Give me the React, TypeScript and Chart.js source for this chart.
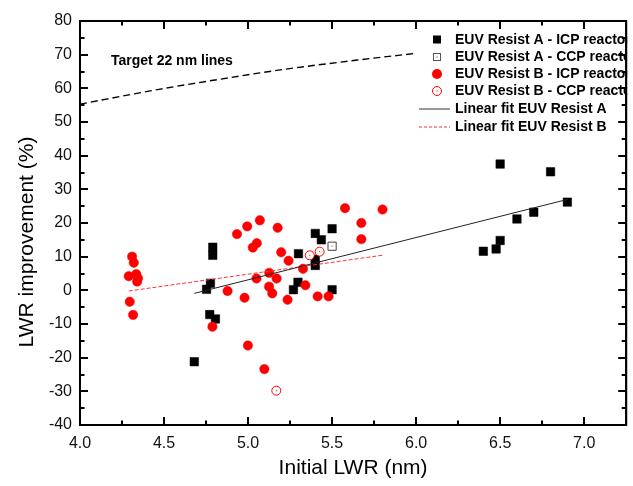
import React, { useEffect, useRef } from "react";
import { Chart, registerables } from "chart.js";

Chart.register(...registerables);

// ---- Data ----
const resistA_ICP_x = [4.79, 4.79, 4.776, 4.753, 4.772, 4.806, 4.68, 5.3, 5.4, 5.436, 5.5, 5.4, 5.4, 5.297, 5.27, 5.5, 6.5, 6.8, 6.9, 6.7, 6.6, 6.5, 6.476, 6.4];
const resistA_ICP_y = [12.8, 10.4, 2.1, 0.3, -7.2, -8.5, -21.2, 10.9, 16.9, 15.0, 18.3, 9.2, 7.4, 2.4, 0.2, 0.2, 37.5, 35.2, 26.2, 23.2, 21.2, 14.8, 12.3, 11.6];

const resistA_CCP_x = [5.5];
const resistA_CCP_y = [13.1];

const resistB_ICP_x = [4.31, 4.32, 4.29, 4.335, 4.345, 4.34, 4.296, 4.316, 5.577, 5.8, 5.674, 5.674, 5.07, 4.995, 4.934, 5.176, 5.052, 5.028, 5.197, 5.241, 5.327, 5.126, 5.17, 5.05, 4.878, 4.979, 5.125, 5.144, 5.235, 5.341, 5.414, 5.479, 4.788, 4.999, 5.097];
const resistB_ICP_y = [10.0, 8.2, 4.2, 4.8, 3.6, 2.6, -3.4, -7.3, 24.4, 24.0, 20.0, 15.2, 20.8, 19.0, 16.7, 18.6, 14.0, 12.7, 11.3, 8.8, 6.4, 5.2, 3.5, 3.5, -0.2, -2.2, 1.1, -0.9, -2.8, 1.5, -1.8, -1.8, -10.8, -16.4, -23.4];

const resistB_CCP_x = [5.367, 5.426, 5.168];
const resistB_CCP_y = [10.4, 11.5, -29.8];

const fitA_x = [4.68, 6.9];
const fitA_y = [-0.9, 27.0];

const fitB_x = [4.29, 5.81];
const fitB_y = [-0.2, 10.5];

const target_x = [4.0, 4.47, 5.06, 5.18, 5.65, 6.0];
const target_y = [55.3, 59.7, 64.5, 65.4, 68.4, 70.4];

const xTickStep = 0.5;
const yTickStep = 10;

const legendLabels = [
  "EUV Resist A - ICP reactor",
  "EUV Resist A - CCP reactor",
  "EUV Resist B - ICP reactor",
  "EUV Resist B - CCP reactor",
  "Linear fit EUV Resist A",
  "Linear fit EUV Resist B",
];
const annotationText = "Target 22 nm lines";
const xTitle = "Initial LWR (nm)";
const yTitle = "LWR improvement (%)";

const zip = (xs: number[], ys: number[]) => xs.map((x, i) => ({ x, y: ys[i] }));

const FONT = "'Liberation Sans', Arial, sans-serif";

const framePlugin = {
  id: "framePlugin",
  afterDatasetsDraw(chart: any) {
    const ctx = chart.ctx as CanvasRenderingContext2D;
    ctx.save();
    chart.data.datasets.forEach((ds: any, i: number) => {
      if (!ds.openMarker) return;
      const meta = chart.getDatasetMeta(i);
      ctx.fillStyle = ds.borderColor;
      meta.data.forEach((el: any) => {
        ctx.fillRect(el.x - 0.5, el.y - 0.5, 1, 1);
      });
    });
    ctx.restore();
  },
  afterDraw(chart: any) {
    const ctx = chart.ctx as CanvasRenderingContext2D;
    const { left, right, top, bottom } = chart.chartArea;
    const xs = chart.scales.x;
    const ys = chart.scales.y;
    ctx.save();
    ctx.strokeStyle = "#000";
    ctx.lineWidth = 2;
    ctx.strokeRect(left, top, right - left, bottom - top);
    const major = 8, minor = 4.5;
    const xMaj: number[] = xs.ticks.map((t: any) => t.value);
    const xMin: number[] = xMaj.map((v) => v + xTickStep / 2).filter((v) => v < xs.max);
    const yMaj: number[] = ys.ticks.map((t: any) => t.value);
    const yMin: number[] = yMaj.map((v) => v + yTickStep / 2).filter((v) => v < ys.max);
    ctx.beginPath();
    const xTick = (v: number, len: number) => {
      const px = Math.round(xs.getPixelForValue(v));
      ctx.moveTo(px, bottom); ctx.lineTo(px, bottom - len);
      ctx.moveTo(px, top); ctx.lineTo(px, top + len);
    };
    const yTick = (v: number, len: number) => {
      const py = Math.round(ys.getPixelForValue(v));
      ctx.moveTo(left, py); ctx.lineTo(left + len, py);
    };
    xMaj.forEach((v) => xTick(v, major));
    xMin.forEach((v) => xTick(v, minor));
    yMaj.forEach((v) => yTick(v, major));
    yMin.forEach((v) => yTick(v, minor));
    ctx.stroke();

    ctx.fillStyle = "#000";
    ctx.font = `bold 14px ${FONT}`;
    ctx.textBaseline = "middle";
    ctx.textAlign = "left";
    ctx.fillText(annotationText, 111, 61);

    // legend
    const mx = 437;
    const tx = 455;
    const rows = [39.5, 57, 74, 91, 109, 127];
    ctx.fillStyle = "#000";
    ctx.fillRect(mx - 4, rows[0] - 4, 8, 8);
    ctx.fillStyle = "#fff";
    ctx.strokeStyle = "#555";
    ctx.lineWidth = 1;
    ctx.fillRect(mx - 4, rows[1] - 4, 8, 8);
    ctx.strokeRect(mx - 3.5, rows[1] - 3.5, 7, 7);
    ctx.fillStyle = "#555";
    ctx.fillRect(mx - 0.5, rows[1] - 0.5, 1, 1);
    ctx.fillStyle = "#f00";
    ctx.beginPath();
    ctx.arc(mx, rows[2], 5, 0, Math.PI * 2);
    ctx.fill();
    ctx.strokeStyle = "#f00";
    ctx.beginPath();
    ctx.arc(mx, rows[3], 4.5, 0, Math.PI * 2);
    ctx.stroke();
    ctx.fillRect(mx - 0.5, rows[3] - 0.5, 1, 1);
    ctx.strokeStyle = "#333";
    ctx.lineWidth = 1;
    ctx.beginPath();
    ctx.moveTo(419, rows[4]); ctx.lineTo(450, rows[4]);
    ctx.stroke();
    ctx.strokeStyle = "#f33";
    ctx.setLineDash([3, 2]);
    ctx.beginPath();
    ctx.moveTo(419, rows[5]); ctx.lineTo(450, rows[5]);
    ctx.stroke();
    ctx.setLineDash([]);

    ctx.fillStyle = "#000";
    ctx.font = `bold 14px ${FONT}`;
    legendLabels.forEach((l, i) => ctx.fillText(l, tx, rows[i] + 0.5));

    ctx.strokeStyle = "#000";
    ctx.lineWidth = 2;
    ctx.fillStyle = "#fff";
    ctx.fillRect(right + 1, 0, 10, chart.height);
    ctx.beginPath();
    ctx.moveTo(right, top - 1); ctx.lineTo(right, bottom + 1);
    yMaj.forEach((v) => { const py = Math.round(ys.getPixelForValue(v)); ctx.moveTo(right, py); ctx.lineTo(right - major, py); });
    yMin.forEach((v) => { const py = Math.round(ys.getPixelForValue(v)); ctx.moveTo(right, py); ctx.lineTo(right - minor, py); });
    ctx.stroke();

    ctx.fillStyle = "#000";
    ctx.font = `21px ${FONT}`;
    ctx.textAlign = "center";
    ctx.textBaseline = "middle";
    ctx.fillText(xTitle, (left + right) / 2, 468);
    ctx.translate(27, 242);
    ctx.rotate(-Math.PI / 2);
    ctx.fillText(yTitle, 0, 0);
    ctx.restore();
  },
};

export default function App() {
  const ref = useRef<HTMLCanvasElement | null>(null);
  useEffect(() => {
    if (!ref.current) return;
    const chart = new Chart(ref.current, {
      type: "scatter",
      data: {
        datasets: [
          {
            label: "Linear fit EUV Resist A",
            data: zip(fitA_x, fitA_y),
            showLine: true,
            borderColor: "#222",
            borderWidth: 1,
            pointRadius: 0,
            order: 0,
          },
          {
            label: "Linear fit EUV Resist B",
            data: zip(fitB_x, fitB_y),
            showLine: true,
            borderColor: "#f33",
            borderWidth: 1,
            borderDash: [4, 2],
            pointRadius: 0,
            order: 1,
          },
          {
            label: "EUV Resist B - CCP reactor",
            data: zip(resistB_CCP_x, resistB_CCP_y),
            pointStyle: "circle",
            pointRadius: 4.5,
            backgroundColor: "#fff",
            borderColor: "#f00",
            borderWidth: 1,
            order: 2,
            openMarker: true,
          },
          {
            label: "EUV Resist B - ICP reactor",
            data: zip(resistB_ICP_x, resistB_ICP_y),
            pointStyle: "circle",
            pointRadius: 4.7,
            backgroundColor: "#f00",
            borderColor: "#f00",
            borderWidth: 0.5,
            order: 3,
          },
          {
            label: "EUV Resist A - CCP reactor",
            data: zip(resistA_CCP_x, resistA_CCP_y),
            pointStyle: "rect",
            pointRadius: 5.8,
            backgroundColor: "#fff",
            borderColor: "#444",
            borderWidth: 1,
            order: 4,
            openMarker: true,
          },
          {
            label: "EUV Resist A - ICP reactor",
            data: zip(resistA_ICP_x, resistA_ICP_y),
            pointStyle: "rect",
            pointRadius: 6,
            backgroundColor: "#000",
            borderColor: "#000",
            borderWidth: 0.5,
            order: 5,
          },
          {
            label: "Target 22 nm lines",
            data: zip(target_x, target_y),
            showLine: true,
            cubicInterpolationMode: "monotone",
            borderColor: "#000",
            borderWidth: 1.4,
            borderDash: [7, 4],
            pointRadius: 0,
            order: 6,
          },
        ] as any,
      },
      options: {
        animation: false,
        responsive: false,
        maintainAspectRatio: false,
        layout: { padding: { top: 21, right: 2, left: 0, bottom: 0 } },
        plugins: { legend: { display: false }, tooltip: { enabled: false } },
        scales: {
          x: {
            type: "linear",
            min: 4,
            max: 7.25,
            grid: { display: false, drawTicks: false },
            border: { display: false },
            ticks: {
              stepSize: xTickStep,
              includeBounds: false,
              padding: 9,
              color: "#111",
              font: { family: FONT, size: 16 },
              callback: (v: any) => Number(v).toFixed(1),
            },
            afterFit: (s: any) => { s.height = 61; s.paddingLeft = 0; s.paddingRight = 0; },
          },
          y: {
            type: "linear",
            min: -40,
            max: 80,
            grid: { display: false, drawTicks: false },
            border: { display: false },
            ticks: {
              stepSize: yTickStep,
              padding: 8,
              color: "#111",
              font: { family: FONT, size: 16 },
              callback: (v: any) => String(v),
            },
            afterFit: (s: any) => { s.width = 80; s.paddingTop = 0; s.paddingBottom = 0; },
          },
        },
      } as any,
      plugins: [framePlugin],
    });
    return () => chart.destroy();
  }, []);
  return (
    <div style={{ position: "fixed", left: 0, top: 0, width: 633, height: 486, background: "#fff" }}>
      <canvas ref={ref} width={633} height={486} style={{ display: "block" }} />
    </div>
  );
}
